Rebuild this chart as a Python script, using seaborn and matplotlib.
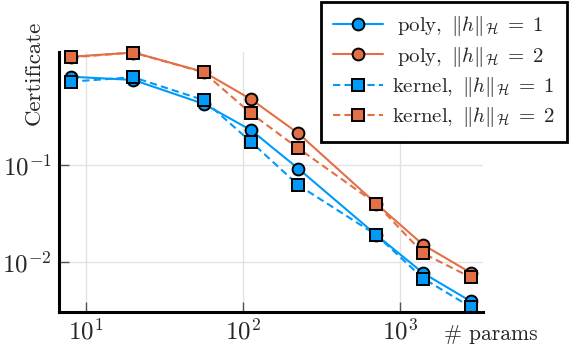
import matplotlib
matplotlib.use("Agg")
import matplotlib.pyplot as plt
import numpy as np
import seaborn as sns

# valeurs
params = [8, 20, 56, 112, 224, 700, 1400, 2800]
poly_h1 = [0.82, 0.76, 0.43, 0.23, 0.092, 0.019, 0.0076, 0.0039]
poly_h2 = [1.32, 1.46, 0.92, 0.48, 0.213, 0.040, 0.0149, 0.0077]
kernel_h1 = [0.73, 0.81, 0.47, 0.174, 0.062, 0.019, 0.0067, 0.0034]
kernel_h2 = [1.30, 1.46, 0.91, 0.343, 0.149, 0.040, 0.0122, 0.0069]

labels = [r"$\;\mathrm{poly},\ \|h\|_{\mathcal{H}}\;=\;1$",
          r"$\;\mathrm{poly},\ \|h\|_{\mathcal{H}}\;=\;2$",
          r"$\mathrm{kernel},\ \|h\|_{\mathcal{H}}\;=\;1$",
          r"$\mathrm{kernel},\ \|h\|_{\mathcal{H}}\;=\;2$"]

blue = "#009AFA"
orange = "#E26F46"

sns.set_theme(style="white")
plt.rcParams["font.family"] = ["cmr10", "DejaVu Serif"]
plt.rcParams["mathtext.fontset"] = "cm"
plt.rcParams["axes.formatter.use_mathtext"] = True

fig = plt.figure(figsize=(5.7, 3.48), dpi=100)
ax = fig.add_axes([0.103, 0.1034, 0.744, 0.747])

series = [(poly_h1, blue, "o", "-"),
          (poly_h2, orange, "o", "-"),
          (kernel_h1, blue, "s", (0, (3.5, 2))),
          (kernel_h2, orange, "s", (0, (3.5, 2)))]

for (vals, col, mk, ls), lab in zip(series, labels):
    sns.lineplot(x=params, y=vals, ax=ax, color=col, marker=mk, linestyle=ls,
                 linewidth=1.5, markersize=8.5, markeredgecolor="black",
                 markeredgewidth=1.4, label=lab, clip_on=False)

ax.set_xscale("log")
ax.set_yscale("log")
ax.set_xlim(6.70, 3342)
ax.set_ylim(0.00302, 1.476)
ax.set_xticks([10, 100, 1000])
ax.set_yticks([0.01, 0.1])
ax.minorticks_off()

ax.grid(True, color="#e2e2e2", linewidth=1)
for s in ["top", "right"]:
    ax.spines[s].set_visible(False)
for s in ["left", "bottom"]:
    ax.spines[s].set_color("black")
    ax.spines[s].set_linewidth(2.2)
ax.tick_params(direction="in", length=7, width=1, color="#555555",
               labelsize=18, pad=5, left=True, bottom=True)

ax.set_ylabel("Certificate", fontsize=16.5)
ax.yaxis.set_label_coords(-0.058, 0.92)
ax.yaxis.label.set_va("center")
ax.set_xlabel("# params", fontsize=15.5)
ax.xaxis.set_label_coords(1.019, -0.085)
ax.xaxis.label.set_va("center")

leg = ax.legend(loc="upper right", bbox_to_anchor=(567 / 570, 1 - 2 / 348),
                bbox_transform=fig.transFigure, fontsize=15, frameon=True,
                fancybox=False, edgecolor="black", framealpha=1,
                handlelength=2.4, borderaxespad=0, labelspacing=0.3,
                borderpad=0.6, handletextpad=0.4)
leg.get_frame().set_linewidth(2)

fig.savefig("out.png", dpi=100)
